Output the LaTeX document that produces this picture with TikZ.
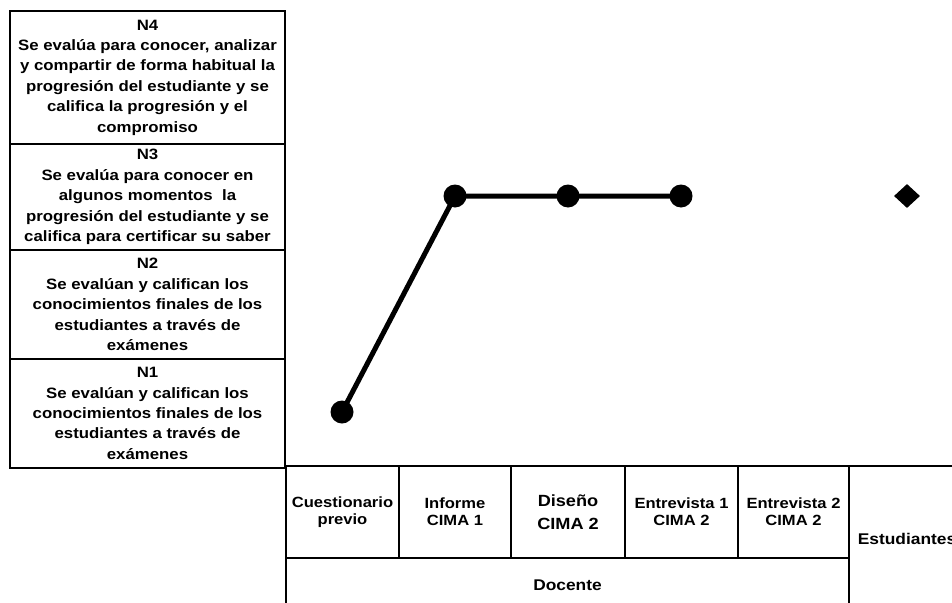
\documentclass[tikz,border=0pt]{standalone}
\usepackage{fontspec}
\setmainfont[FakeStretch=1.12]{Liberation Sans}
\usetikzlibrary{shapes.geometric}
\tikzset{
  lvlbox/.style={draw, line width=2.5pt, inner sep=0pt, align=center,
    font=\fontsize{15}{20.4}\selectfont\bfseries, minimum width=275pt},
  tabcell/.style={draw, line width=2pt, inner sep=0pt, align=center,
    font=\fontsize{14.8}{17}\selectfont\bfseries},
  bigcell/.style={tabcell, font=\fontsize{15.5}{18}\selectfont\bfseries},
  dot/.style={circle, fill=black, minimum size=23pt, inner sep=0pt},
  diam/.style={diamond, fill=black, minimum width=26pt, minimum height=24pt, inner sep=0pt},
  trend/.style={line width=5pt, line join=round}
}
\begin{document}
\begin{tikzpicture}[x=1pt, y=-1pt]
\useasboundingbox (0,0) rectangle (952,602);
\clip (0,0) rectangle (952,602);

% level descriptions
\node[lvlbox, minimum height=133pt] (n4) at (147.5,77.5)
  {N4\\Se evalúa para conocer, analizar\\y compartir de forma habitual la\\progresión del estudiante y se\\califica la progresión y el\\compromiso};
\node[lvlbox, minimum height=106pt] (n3) at (147.5,197)
  {N3\\Se evalúa para conocer en\\algunos momentos\ \ la\\progresión del estudiante y se\\califica para certificar su saber};
\node[lvlbox, fill=white, minimum height=109pt] (n2) at (147.5,304.5)
  {N2\\Se evalúan y califican los\\conocimientos finales de los\\estudiantes a través de\\exámenes};
\node[lvlbox, fill=white, minimum height=109pt] (n1) at (147.5,413.5)
  {N1\\Se evalúan y califican los\\conocimientos finales de los\\estudiantes a través de\\exámenes};

% instruments table
\node[tabcell, minimum width=113pt, minimum height=92pt] (c1) at (342.5,512) {Cuestionario\\previo};
\node[tabcell, minimum width=112pt, minimum height=92pt] (c2) at (455,512) {Informe\\CIMA 1};
\node[tabcell, font=\fontsize{16.2}{23}\selectfont\bfseries, minimum width=114pt, minimum height=92pt] (c3) at (568,512) {Diseño\\CIMA 2};
\node[tabcell, minimum width=113pt, minimum height=92pt] (c4) at (681.5,512) {Entrevista 1\\CIMA 2};
\node[tabcell, minimum width=111pt, minimum height=92pt] (c5) at (793.5,512) {Entrevista 2\\CIMA 2};
\node[bigcell, minimum width=116pt, minimum height=146pt] (est) at (907,539) {Estudiantes};
\node[bigcell, minimum width=563pt, minimum height=54pt] (doc) at (567.5,585) {Docente};

% level reached by each instrument
\node[dot] (p1) at (342,412) {};
\node[dot] (p2) at (455,196) {};
\node[dot] (p3) at (568,196) {};
\node[dot] (p4) at (681,196) {};
\node[diam] (p5) at (907,196) {};
\draw[trend] (p1.center) -- (p2.center) -- (p3.center) -- (p4.center);
\end{tikzpicture}
\end{document}
